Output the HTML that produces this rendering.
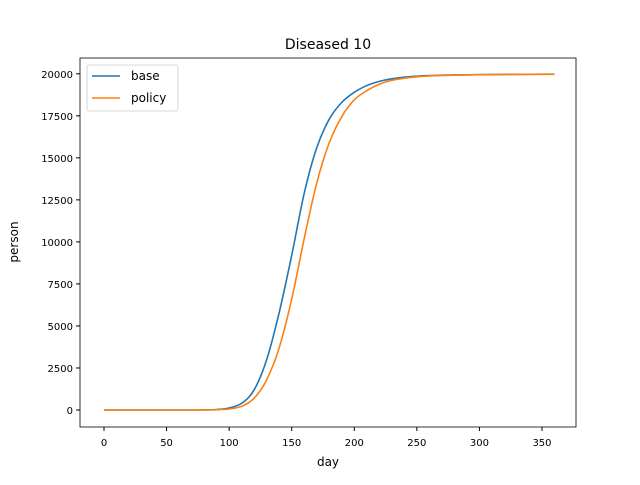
<!DOCTYPE html>
<html><head><meta charset="utf-8"><style>
body{margin:0;background:#fff;}
svg text{font-family:"DejaVu Sans","Liberation Sans",sans-serif;}
</style></head><body>
<svg id="chart" width="640" height="480">
<rect width="640" height="480" fill="#fff"/>
<text x="328" y="49" font-size="14" text-anchor="middle">Diseased 10</text>
<g id="ticks"></g>
<g id="lines"></g>
<rect x="80" y="58" width="496" height="369" fill="none" stroke="#000" stroke-width="0.8"/>
<text x="328" y="466" font-size="12" text-anchor="middle">day</text>
<text transform="translate(18,242) rotate(-90)" font-size="12" text-anchor="middle">person</text>
<g>
<rect x="87" y="65" width="91" height="46" rx="2" fill="#fff" stroke="#ccc" stroke-width="0.8"/>
<line x1="92" y1="76" x2="120" y2="76" stroke="#1f77b4" stroke-width="1.5"/>
<text x="131" y="80" font-size="12">base</text>
<line x1="92" y1="98" x2="120" y2="98" stroke="#ff7f0e" stroke-width="1.5"/>
<text x="131" y="102" font-size="12">policy</text>
</g>
</svg>
<script>
const days=[0,10,20,30,40,50,60,70,80,90,100,110,120,130,140,150,160,170,180,190,200,210,220,230,240,250,260,270,280,290,300,310,320,330,340,350,360];
const baseVals=[0,0,0,0,0,0,0,0,5,30,120,400,1200,3000,5800,9200,12900,15600,17300,18300,18900,19300,19550,19700,19800,19860,19895,19915,19930,19942,19950,19957,19963,19968,19972,19975,19978];
const policyVals=[0,0,0,0,0,0,0,0,2,15,60,220,700,1800,3700,6600,10200,13500,15900,17450,18450,19000,19380,19610,19740,19820,19870,19900,19920,19935,19945,19952,19958,19963,19967,19970,19972];
const xTicks=[0,50,100,150,200,250,300,350];
const yTicks=[0,2500,5000,7500,10000,12500,15000,17500,20000];
const sx=d=>104+d*1.2514;
const sy=v=>410-v*0.01681;
const ns="http://www.w3.org/2000/svg";
const tg=document.getElementById('ticks');
xTicks.forEach(t=>{
 const l=document.createElementNS(ns,'line');
 l.setAttribute('x1',sx(t));l.setAttribute('x2',sx(t));l.setAttribute('y1',427);l.setAttribute('y2',431);l.setAttribute('stroke','#000');
 
 
 tg.appendChild(l);
 const tx=document.createElementNS(ns,'text');
 tx.setAttribute('x',sx(t));tx.setAttribute('y',446);tx.setAttribute('font-size','10');tx.setAttribute('text-anchor','middle');tx.textContent=t;
 
 
 tg.appendChild(tx);
});
yTicks.forEach(t=>{
 const l=document.createElementNS(ns,'line');
 l.setAttribute('x1',76);l.setAttribute('x2',80);l.setAttribute('y1',sy(t));l.setAttribute('y2',sy(t));l.setAttribute('stroke','#000');
 
 
 tg.appendChild(l);
 const tx=document.createElementNS(ns,'text');
 tx.setAttribute('x',73);tx.setAttribute('y',sy(t)+4);tx.setAttribute('font-size','10');tx.setAttribute('text-anchor','end');tx.textContent=t;
 
 
 tg.appendChild(tx);
});
const lg=document.getElementById('lines');
function curve(vals,color,name){
 const pts=days.map((d,i)=>[sx(d),sy(vals[i])]);
 let dstr='M'+pts[0][0]+','+pts[0][1];
 for(let i=0;i<pts.length-1;i++){
  const p0=pts[Math.max(i-1,0)],p1=pts[i],p2=pts[i+1],p3=pts[Math.min(i+2,pts.length-1)];
  const c1=[p1[0]+(p2[0]-p0[0])/6,p1[1]+(p2[1]-p0[1])/6];
  const c2=[p2[0]-(p3[0]-p1[0])/6,p2[1]-(p3[1]-p1[1])/6];
  dstr+=' C'+c1[0]+','+c1[1]+' '+c2[0]+','+c2[1]+' '+p2[0]+','+p2[1];
 }
 const p=document.createElementNS(ns,'path');
 p.setAttribute('d',dstr);
 p.setAttribute('fill','none');p.setAttribute('stroke',color);p.setAttribute('stroke-width','1.6');p.setAttribute('stroke-linejoin','round');
 
 
 lg.appendChild(p);
}
curve(baseVals,'#1f77b4','base-line');
curve(policyVals,'#ff7f0e','policy-line');
</script>
</body></html>
